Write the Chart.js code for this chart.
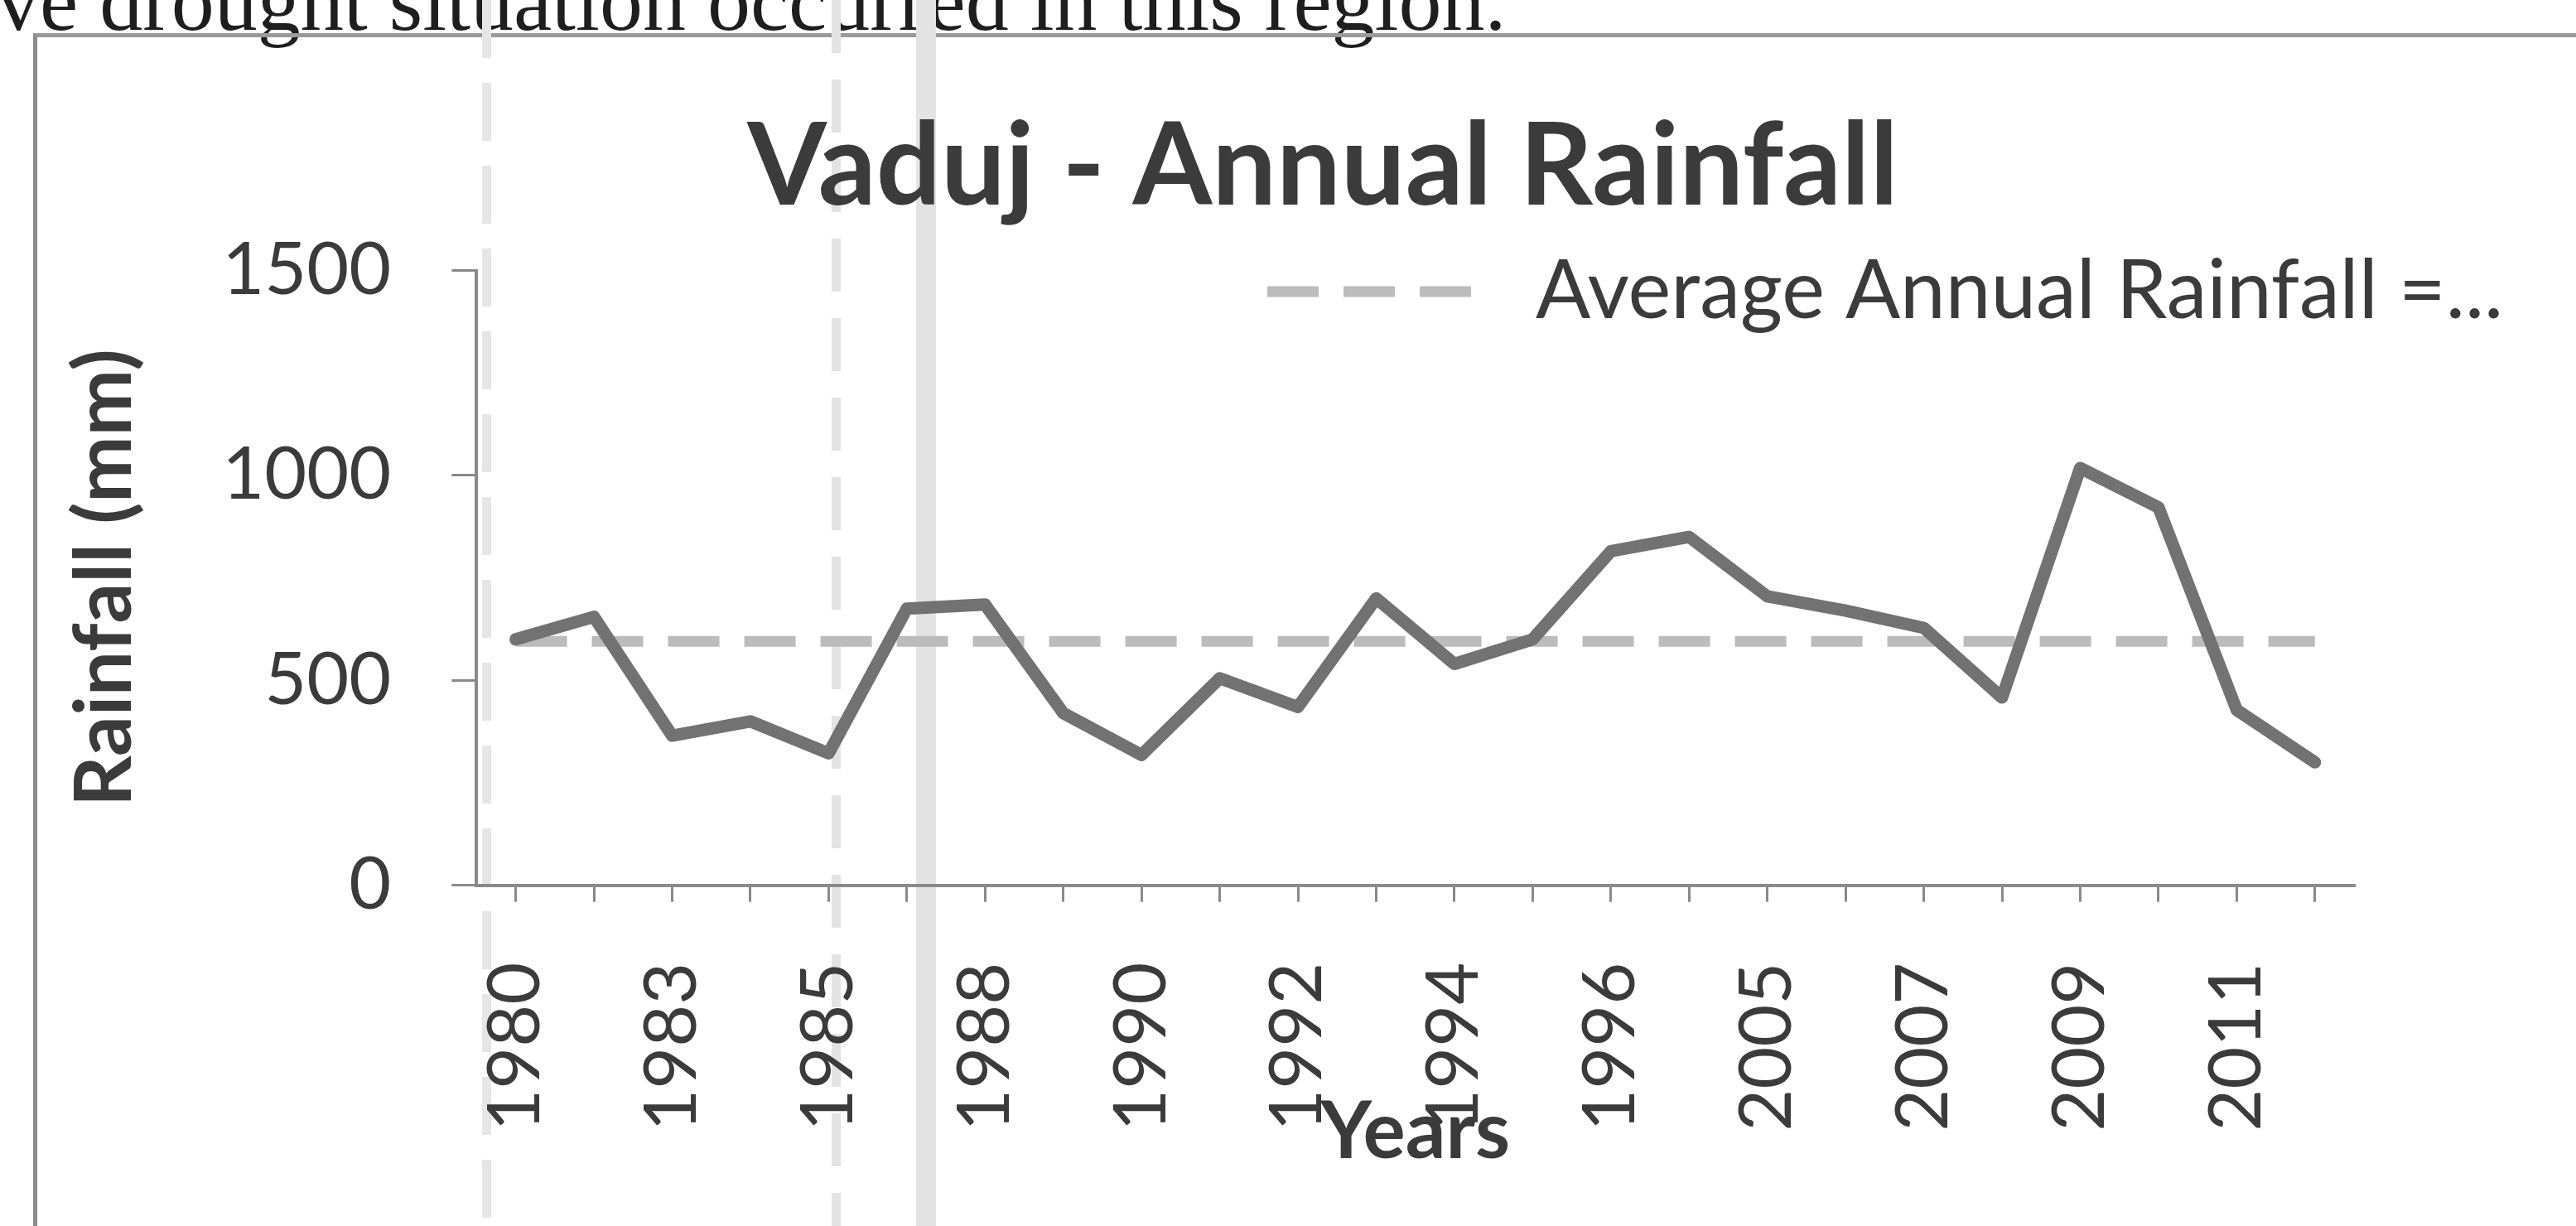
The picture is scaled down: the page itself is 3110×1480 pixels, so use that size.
<!DOCTYPE html>
<html>
<head>
<meta charset="utf-8">
<title>Vaduj - Annual Rainfall</title>
<script src="https://cdn.jsdelivr.net/npm/chart.js@4.4.1/dist/chart.umd.min.js"></script>
<style>
  html, body { margin: 0; padding: 0; background: #ffffff; }
  body { width: 3110px; height: 1480px; overflow: hidden; position: relative; }
  #page-text {
    position: absolute; left: -4px; top: -51px;
    font-family: "Liberation Serif", serif; font-size: 104px; line-height: 1;
    color: #1e1e1e; white-space: nowrap;
  }
  #frame {
    position: absolute; left: 40px; top: 40px; width: 3300px; height: 1700px;
    border-left: 5px solid #8c8c8c; border-top: 5px solid #9a9a9a;
  }
  .streak { position: absolute; top: 0; height: 1480px; }
  #wrap { position: absolute; left: 0; top: 0; width: 3110px; height: 1480px; }
  canvas { display: block; }
</style>
</head>
<body>
<div id="page-text">ve drought situation occurred in this region.</div>
<div id="frame"></div>
<div class="streak" style="left:1106px;width:24px;background:#e3e3e3"></div>
<div class="streak" style="left:1004px;width:11px;background:repeating-linear-gradient(to bottom,#e3e3e3 0 64px,transparent 64px 96px)"></div>
<div class="streak" style="left:582px;width:11px;background:repeating-linear-gradient(to bottom,#e6e6e6 0 70px,transparent 70px 100px)"></div>
<div id="wrap"><canvas id="chart" width="3110" height="1480"></canvas></div>

<script>
// Years on the category axis (not every year has a record)
const years = [1980, 1981, 1983, 1984, 1985, 1986, 1988, 1989, 1990, 1991, 1992, 1993,
               1994, 1995, 1996, 1997, 2005, 2006, 2007, 2008, 2009, 2010, 2011, 2012];

// Annual rainfall in mm
const rainfall = [600, 655, 365, 400, 322, 675, 685, 420, 318, 505, 435, 700,
                  540, 600, 815, 850, 705, 670, 628, 458, 1018, 922, 428, 300];

// Long-term mean annual rainfall in mm
const averageRainfall = 595;

// Years that carry a printed label on the x axis
const yearTickLabels = ['1980', '1983', '1985', '1988', '1990', '1992',
                        '1994', '1996', '2005', '2007', '2009', '2011'];

// Rainfall axis range and step
const rainfallAxisMin = 0;
const rainfallAxisMax = 1500;
const rainfallAxisStep = 500;

const TEXT = '#3b3b3b';
const AXIS = '#8a8a8a';

// Title centre and legend corner placement on the canvas
const TITLE_CENTER_X = 1597;
const LEGEND_LEFT = 1520;
const LEGEND_TOP = 293;

const placeBoxes = {
  id: 'placeBoxes',
  afterLayout(chart) {
    const t = chart.titleBlock;
    if (t) {
      const w = t.right - t.left;
      t.left = TITLE_CENTER_X - w / 2;
      t.right = t.left + w;
    }
    const lg = chart.legend;
    if (lg) {
      const w = lg.width, h = lg.height;
      lg.left = LEGEND_LEFT; lg.right = LEGEND_LEFT + w;
      lg.top = LEGEND_TOP; lg.bottom = LEGEND_TOP + h;
    }
  }
};

function draw() {
  Chart.defaults.font.family = 'Lato';
  const ctx = document.getElementById('chart').getContext('2d');

  new Chart(ctx, {
    type: 'line',
    data: {
      labels: years.map(String),
      datasets: [
        {
          label: 'Annual Rainfall',
          data: rainfall,
          borderColor: '#727272',
          backgroundColor: '#727272',
          borderWidth: 15,
          borderJoinStyle: 'round',
          borderCapStyle: 'round',
          pointRadius: 0,
          pointHoverRadius: 0,
          tension: 0,
          fill: false,
          order: 0
        },
        {
          label: 'Average Annual Rainfall =...',
          data: years.map(() => averageRainfall),
          borderColor: '#bcbcbc',
          backgroundColor: '#bcbcbc',
          borderWidth: 13,
          borderDash: [62, 30],
          borderCapStyle: 'butt',
          pointRadius: 0,
          pointHoverRadius: 0,
          tension: 0,
          fill: false,
          order: 1
        }
      ]
    },
    options: {
      responsive: false,
      animation: false,
      devicePixelRatio: 1,
      layout: { padding: { left: 69, right: 268, top: 0, bottom: 55 } },
      plugins: {
        tooltip: { enabled: false },
        title: {
          display: true,
          text: 'Vaduj - Annual Rainfall',
          color: TEXT,
          font: { size: 138, weight: 'bold' },
          padding: { top: 120, bottom: 41 }
        },
        legend: {
          display: true,
          position: 'chartArea',
          align: 'start',
          labels: {
            usePointStyle: true,
            pointStyle: 'line',
            pointStyleWidth: 275,
            padding: 10,
            color: TEXT,
            font: { size: 98 },
            generateLabels(chart) {
              const base = Chart.defaults.plugins.legend.labels.generateLabels(chart);
              return base
                .filter(item => item.datasetIndex === 1)
                .map(item => {
                  const ds = chart.data.datasets[item.datasetIndex];
                  return Object.assign({}, item, {
                    lineDash: ds.borderDash,
                    lineWidth: ds.borderWidth,
                    strokeStyle: ds.borderColor,
                    lineCap: 'butt'
                  });
                });
            }
          }
        }
      },
      scales: {
        x: {
          type: 'category',
          offset: true,
          grid: {
            display: true, drawOnChartArea: false, drawTicks: true,
            tickLength: 20, color: AXIS, lineWidth: 3, offset: false
          },
          border: { display: true, color: AXIS, width: 4 },
          ticks: {
            autoSkip: false,
            minRotation: 90,
            maxRotation: 90,
            padding: 73,
            color: TEXT,
            font: { size: 88 },
            callback(value, index) {
              const label = String(years[index]);
              return yearTickLabels.includes(label) ? label : '';
            }
          },
          title: {
            display: true,
            text: 'Years',
            color: TEXT,
            font: { size: 96, weight: 'bold' },
            padding: { top: -129, bottom: 0 }
          }
        },
        y: {
          min: rainfallAxisMin,
          max: rainfallAxisMax,
          grid: {
            display: true, drawOnChartArea: false, drawTicks: true,
            tickLength: 30, color: AXIS, lineWidth: 3
          },
          border: { display: true, color: AXIS, width: 4 },
          ticks: {
            stepSize: rainfallAxisStep,
            padding: 73,
            color: TEXT,
            font: { size: 88 },
            callback(value) { return String(value); }
          },
          title: {
            display: true,
            text: 'Rainfall (mm)',
            color: TEXT,
            font: { size: 96, weight: 'bold' },
            padding: { top: 0, bottom: 11 }
          }
        }
      }
    },
    plugins: [placeBoxes]
  });
}

const fontsReady = document.fonts && document.fonts.load
  ? Promise.all([
      document.fonts.load('bold 138px Lato'),
      document.fonts.load('88px Lato'),
      document.fonts.load('104px "Liberation Serif"')
    ]).catch(() => {})
  : Promise.resolve();

Promise.race([fontsReady, new Promise(r => setTimeout(r, 1500))]).then(draw);
</script>
</body>
</html>
